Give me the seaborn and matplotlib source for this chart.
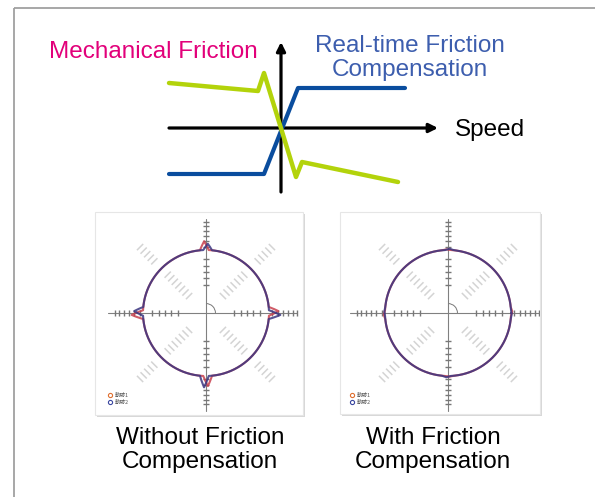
import numpy as np
import pandas as pd
import seaborn as sns
import matplotlib.pyplot as plt
from matplotlib.patches import Rectangle, Arc
from matplotlib.collections import LineCollection

# 摩擦特性图 (速度 / 力)，以原点为零
green_speed = [-112, -23, -17, 15, 21, 117]
green_force = [45, 37, 55, -49, -34, -54]
blue_speed = [-112, -17, 17, 124]
blue_force = [-46, -46, 40, 40]

# 圆弧轨迹上的突起 (0, 90, 180, 270 度)
spike_angles = [0, 90, 180, 270]
left_red_spikes = [0.15, 0.14, 0.18, 0.16]
left_blue_spikes = [0.18, 0.10, 0.14, 0.18]
right_red_spikes = [0.02, 0.01, 0.02, 0.01]
right_blue_spikes = [0.01, 0.02, 0.01, 0.02]

axis_ticks = [0.45, 0.55, 0.65, 0.75, 0.85, 1.05, 1.15, 1.22, 1.3, 1.38, 1.45]
diag_dashes = [0.38, 0.46, 0.54, 0.62, 0.70, 0.78, 0.86, 1.16, 1.24, 1.32, 1.40, 1.48]

captions = ["Without Friction\nCompensation", "With Friction\nCompensation"]

sns.set_theme(style="white")
plt.rcParams['font.family'] = ['Liberation Sans', 'DejaVu Sans']

W, H = 595, 497
FS = 17.5
fig = plt.figure(figsize=(W / 100, H / 100), dpi=100)
ax = fig.add_axes([0, 0, 1, 1])
ax.set_xlim(0, W)
ax.set_ylim(H, 0)
ax.axis('off')

# 外框
ax.add_patch(Rectangle((14, 8), 700, 600, fill=False, ec='#a0a0a0', lw=1.3))

# 顶部摩擦图
x0, x1, y0, y1 = 150, 450, 30, 200
axf = fig.add_axes([x0 / W, 1 - y1 / H, (x1 - x0) / W, (y1 - y0) / H])
axf.set_xlim(x0 - 281, x1 - 281)
axf.set_ylim(128 - y1, 128 - y0)
axf.axis('off')
arrow = dict(arrowstyle='-|>', lw=2.3, color='black', mutation_scale=13,
             shrinkA=0, shrinkB=0)
axf.annotate('', xy=(157, 0), xytext=(-112, 0), arrowprops=arrow)
axf.annotate('', xy=(0, 86), xytext=(0, -64), arrowprops=arrow)
sns.lineplot(x=blue_speed, y=blue_force, sort=False, estimator=None,
             color='#0a4d9e', lw=3.0, ax=axf, zorder=3)
sns.lineplot(x=green_speed, y=green_force, sort=False, estimator=None,
             color='#b3d30b', lw=3.2, ax=axf, zorder=4)

ax.text(153, 52, "Mechanical Friction", color='#e2007a', fontsize=FS,
        ha='center', va='center')
ax.text(410, 58, "Real-time Friction\nCompensation", color='#3d5eae',
        fontsize=FS, ha='center', va='center', linespacing=1.1)
ax.text(455, 130, "Speed", color='black', fontsize=FS, ha='left', va='center')


def draw_panel(box, center, red_sp, blue_sp, caption, cx_cap):
    bx0, bx1, by0, by1 = box
    cxp, cyp = center
    s = 63.0
    # 阴影和白底
    ax.add_patch(Rectangle((bx0 + 2, by0 + 2), bx1 - bx0, by1 - by0,
                           fc='#d8d8d8', ec='none', zorder=1))
    ax.add_patch(Rectangle((bx0, by0), bx1 - bx0, by1 - by0,
                           fc='white', ec='#e6e6e6', lw=0.8, zorder=2))
    a = fig.add_axes([bx0 / W, 1 - by1 / H, (bx1 - bx0) / W, (by1 - by0) / H])
    a.set_xlim((bx0 - cxp) / s, (bx1 - cxp) / s)
    a.set_ylim((cyp - by1) / s, (cyp - by0) / s)
    a.axis('off')

    # 对角线虚线刻度
    segs = []
    for ang in [45, 135, 225, 315]:
        t = np.deg2rad(ang)
        ux, uy = np.cos(t), np.sin(t)
        px, py = -uy, ux
        for r in diag_dashes:
            segs.append([(r * ux - 0.07 * px, r * uy - 0.07 * py),
                         (r * ux + 0.07 * px, r * uy + 0.07 * py)])
    a.add_collection(LineCollection(segs, colors='#d4d4d4', lw=1.1))

    # 坐标轴
    a.plot([-1.55, 1.45], [0, 0], color='#808080', lw=0.8)
    a.plot([0, 0], [-1.55, 1.5], color='#808080', lw=0.8)
    tsegs = []
    for r in axis_ticks:
        for sgn in (-1, 1):
            tsegs.append([(sgn * r, -0.04), (sgn * r, 0.04)])
            tsegs.append([(-0.05, sgn * r), (0.05, sgn * r)])
    a.add_collection(LineCollection(tsegs, colors='#777777', lw=1.0))
    a.add_patch(Arc((0, 0), 0.3, 0.3, theta1=0, theta2=90, color='#777777', lw=0.7))

    # 圆轨迹
    theta = np.linspace(0, 360, 1441)
    for sp, col, dth in [(red_sp, '#c8404e', 1.5), (blue_sp, '#3b3580', -1.5)]:
        r = np.ones_like(theta)
        for ang, h in zip(spike_angles, sp):
            d = np.abs(((theta - ang - dth) + 180) % 360 - 180)
            r += h * np.clip(1 - d / 4.0, 0, None)
        df = pd.DataFrame({'x': r * np.cos(np.deg2rad(theta)),
                           'y': r * np.sin(np.deg2rad(theta))})
        sns.lineplot(data=df, x='x', y='y', sort=False, estimator=None,
                     color=col, lw=1.5, alpha=0.85, ax=a)

    # 图例
    a.plot([-1.52], [-1.3], 'o', mfc='none', mec='#e07030', ms=3, mew=0.8)
    a.plot([-1.52], [-1.42], 'o', mfc='none', mec='#3a46a0', ms=3, mew=0.8)
    a.text(-1.44, -1.3, "軌跡1", fontsize=4, color='#555555', va='center',
           family=['Noto Sans CJK JP', 'DejaVu Sans'])
    a.text(-1.44, -1.42, "軌跡2", fontsize=4, color='#555555', va='center',
           family=['Noto Sans CJK JP', 'DejaVu Sans'])

    ax.text(cx_cap, 450, caption, fontsize=FS, ha='center', va='center',
            linespacing=1.1, color='black')


draw_panel((95, 303, 212, 415), (206, 313), left_red_spikes, left_blue_spikes,
           captions[0], 200)
draw_panel((340, 540, 212, 414), (448, 313), right_red_spikes, right_blue_spikes,
           captions[1], 433)

fig.savefig('out.png', dpi=100)
